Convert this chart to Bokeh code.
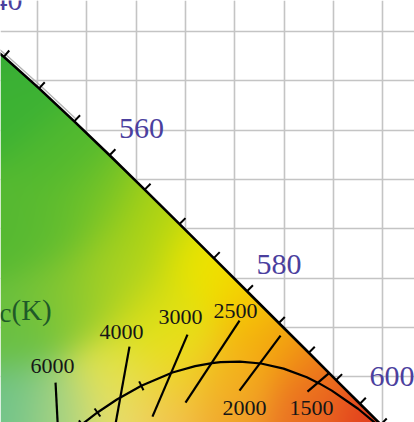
import numpy as np
from bokeh.plotting import figure
from bokeh.models import Grid, FixedTicker, Range1d
from bokeh.core.properties import value
from bokeh.embed import file_html
from bokeh.resources import INLINE

# ---------------- data ----------------
# CIE 1931 spectral locus (wavelength nm, x, y)
wl = [380, 460, 470, 480, 490, 500, 510, 520, 530, 540, 545, 550, 555, 560, 565,
      570, 575, 580, 585, 590, 595, 600, 605, 610, 615, 620, 630, 640, 700]
wl_x = [0.1741, 0.1440, 0.1241, 0.0913, 0.0454, 0.0082, 0.0139, 0.0743, 0.1547, 0.2296,
        0.2658, 0.3016, 0.3373, 0.3731, 0.4087, 0.4441, 0.4788, 0.5125, 0.5448, 0.5752,
        0.6029, 0.6270, 0.6482, 0.6658, 0.6801, 0.6915, 0.7079, 0.7190, 0.7347]
wl_y = [0.0050, 0.0297, 0.0578, 0.1327, 0.2950, 0.5384, 0.7502, 0.8338, 0.8059, 0.7543,
        0.7243, 0.6923, 0.6589, 0.6245, 0.5896, 0.5547, 0.5202, 0.4866, 0.4544, 0.4242,
        0.3965, 0.3725, 0.3514, 0.3340, 0.3197, 0.3083, 0.2920, 0.2809, 0.2653]
tick_wl = [540, 545, 550, 555, 560, 565, 570, 575, 580, 585, 590, 595, 600, 605, 610, 615]
label_wl = [540, 560, 580, 600]
edge_wl = [540, 545, 550, 555]

# Planckian locus (K, x, y)
pl_T = [1000, 1200, 1400, 1500, 1600, 1800, 2000, 2200, 2400, 2500, 2700, 3000,
        3500, 4000, 4500, 5000, 5500, 6000, 7000]
pl_x = [0.6528, 0.6251, 0.5985, 0.5857, 0.5732, 0.5496, 0.5267, 0.5052, 0.4856, 0.4770,
        0.4599, 0.4369, 0.4053, 0.3805, 0.3608, 0.3451, 0.3325, 0.3221, 0.3064]
pl_y = [0.3444, 0.3674, 0.3858, 0.3931, 0.3993, 0.4081, 0.4133, 0.4152, 0.4147, 0.4137,
        0.4106, 0.4041, 0.3907, 0.3768, 0.3636, 0.3516, 0.3411, 0.3318, 0.3166]
pl_tick_T = [3500, 4500, 5000]

# isotherm lines (K) and their end points in xy
iso_T = ["6000", "4000", "3000", "2500", "2000", "1500"]
iso_xa = [0.3183, 0.3933, 0.4521, 0.5049, 0.5465, 0.5951]
iso_ya = [0.3939, 0.4304, 0.4426, 0.4568, 0.4416, 0.4030]
iso_xb = [0.3213, 0.3781, 0.4166, 0.4501, 0.5049, 0.5738]
iso_yb = [0.3361, 0.3462, 0.3594, 0.3736, 0.3858, 0.3848]
# isotherm label positions
iso_lx = [0.3152, 0.3852, 0.4450, 0.5008, 0.5099, 0.5779]
iso_ly = [0.4112, 0.4456, 0.4609, 0.4669, 0.3686, 0.3686]

grid_x = [0.30, 0.35, 0.40, 0.45, 0.50, 0.55, 0.60, 0.65]
grid_y = [0.40, 0.45, 0.50, 0.55, 0.60, 0.65, 0.70, 0.75]

# ---------------- figure ----------------
W, H = 414, 422
S = 986.0                      # pixels per chromaticity unit
X0 = 0.30 - 37 / S
X1 = X0 + W / S
Y1 = 0.75 + 31 / S
Y0 = Y1 - H / S

p = figure(width=W, height=H, x_range=Range1d(X0, X1), y_range=Range1d(Y0, Y1),
           x_axis_location=None, y_axis_location=None, toolbar_location=None,
           output_backend="svg", min_border=0, outline_line_color=None,
           background_fill_color="white", border_fill_color="white")

p.add_layout(Grid(dimension=0, ticker=FixedTicker(ticks=grid_x),
                  grid_line_color="#c4c4c4", grid_line_width=1.6))
p.add_layout(Grid(dimension=1, ticker=FixedTicker(ticks=grid_y),
                  grid_line_color="#c4c4c4", grid_line_width=1.6))

# ---------------- colour field inside the spectral locus ----------------
gx = X0 + (np.arange(W) + 0.5) * (X1 - X0) / W
gy = Y0 + (np.arange(H) + 0.5) * (Y1 - Y0) / H
GX, GY = np.meshgrid(gx, gy)

poly = list(zip(wl_x, wl_y))
inside = np.zeros(GX.shape, dtype=bool)
for i in range(len(poly)):
    xa, ya = poly[i]
    xb, yb = poly[(i + 1) % len(poly)]
    cond = (ya > GY) != (yb > GY)
    xint = (xb - xa) * (GY - ya) / ((yb - ya) if yb != ya else 1e-12) + xa
    inside ^= cond & (GX < xint)

# colour anchors of the shading (chromaticity x, y, r, g, b)
shade = [
    (0.2625, 0.7612, 55, 170, 55), (0.2726, 0.6800, 60, 178, 52),
    (0.3233, 0.6192, 80, 185, 48), (0.3639, 0.5786, 118, 196, 40),
    (0.4146, 0.5583, 178, 213, 18), (0.4653, 0.5178, 238, 230, 0),
    (0.5160, 0.4975, 245, 215, 0), (0.5363, 0.4569, 245, 185, 10),
    (0.5667, 0.4366, 242, 150, 20), (0.5972, 0.4062, 236, 110, 30),
    (0.6377, 0.3656, 226, 60, 30), (0.5667, 0.3555, 234, 110, 35),
    (0.4957, 0.3605, 240, 160, 45), (0.4349, 0.3605, 243, 190, 90),
    (0.3842, 0.3656, 235, 225, 115), (0.3842, 0.4062, 225, 228, 70),
    (0.4349, 0.4366, 235, 228, 20), (0.3233, 0.3656, 170, 212, 130),
    (0.2726, 0.3707, 110, 195, 140), (0.2726, 0.4467, 105, 192, 65),
    (0.3233, 0.4772, 125, 197, 55), (0.3639, 0.4873, 160, 206, 40),
    (0.2726, 0.5482, 85, 185, 50), (0.4957, 0.3960, 245, 180, 25),
    (0.4400, 0.3960, 240, 215, 40), (0.3233, 0.5482, 95, 188, 48),
    (0.3842, 0.5178, 170, 210, 30), (0.4146, 0.4670, 215, 222, 20),
]
sig = 0.030
acc = np.zeros(GX.shape + (3,))
wsum = np.full(GX.shape, 1e-30)
for ax_, ay_, r_, g_, b_ in shade:
    w = np.exp(-((GX - ax_) ** 2 + (GY - ay_) ** 2) / (2 * sig * sig))
    acc[..., 0] += w * r_
    acc[..., 1] += w * g_
    acc[..., 2] += w * b_
    wsum += w
rgb = acc / wsum[..., None]
img = np.zeros((H, W, 4), dtype=np.uint8)
img[:, :, :3] = np.clip(rgb, 0, 255).astype(np.uint8)
img[:, :, 3] = np.where(inside, 255, 0).astype(np.uint8)
p.image_rgba(image=[img.view(np.uint32).reshape(H, W)], x=X0, y=Y0, dw=X1 - X0, dh=Y1 - Y0)


def normal(xs, ys, i):
    dx = xs[i + 1] - xs[i - 1]
    dy = ys[i + 1] - ys[i - 1]
    n = np.hypot(dx, dy)
    return -dy / n, dx / n


# faint grey edge just outside the locus (upper left)
ex, ey = [], []
for w in edge_wl:
    i = wl.index(w)
    ox, oy = normal(wl_x, wl_y, i)
    ex.append(wl_x[i] + 0.003 * ox); ey.append(wl_y[i] + 0.003 * oy)
p.line(ex, ey, line_color="#b4b4b4", line_width=1.4)

# ---------------- spectral locus and its ticks ----------------
p.line(wl_x, wl_y, line_color="black", line_width=2.6)

tx0, ty0, tx1, ty1 = [], [], [], []
for w in tick_wl:
    i = wl.index(w)
    ox, oy = normal(wl_x, wl_y, i)
    tx0.append(wl_x[i]); ty0.append(wl_y[i])
    tx1.append(wl_x[i] + 0.0085 * ox); ty1.append(wl_y[i] + 0.0085 * oy)
p.segment(x0=tx0, y0=ty0, x1=tx1, y1=ty1, line_color="black", line_width=2)

lx = [wl_x[wl.index(w)] for w in label_wl]
ly = [wl_y[wl.index(w)] for w in label_wl]
p.text(x=lx, y=ly, text=[str(w) for w in label_wl], x_offset=32, y_offset=-27,
       text_align="center", text_baseline="middle", text_color="#4b3f9e",
       text_font=value("Liberation Serif"), text_font_size="30px")

# ---------------- Planckian locus ----------------
p.line(pl_x, pl_y, line_color="black", line_width=2.2)

px0, py0, px1, py1 = [], [], [], []
for T in pl_tick_T:
    i = pl_T.index(T)
    ox, oy = normal(pl_x, pl_y, i)
    px0.append(pl_x[i] - 0.005 * ox); py0.append(pl_y[i] - 0.005 * oy)
    px1.append(pl_x[i] + 0.005 * ox); py1.append(pl_y[i] + 0.005 * oy)
p.segment(x0=px0, y0=py0, x1=px1, y1=py1, line_color="black", line_width=2)

p.segment(x0=iso_xa, y0=iso_ya, x1=iso_xb, y1=iso_yb, line_color="black", line_width=2.2)
p.text(x=iso_lx, y=iso_ly, text=iso_T, text_align="center", text_baseline="middle",
       text_color="#161616", text_font=value("Liberation Serif"), text_font_size="22px")

# ---------------- Tc(K) label ----------------
p.text(x=[0.2736], y=[0.4680], text=["(K)"], text_align="left", text_baseline="middle",
       text_color="#1f5a28", text_font=value("Liberation Serif"), text_font_size="29px")
p.text(x=[0.2736], y=[0.4640], text=["c"], text_align="right", text_baseline="middle",
       text_color="#1f5a28", text_font=value("Liberation Serif"), text_font_size="27px")

open("out.html", "w").write(file_html(p, INLINE))
